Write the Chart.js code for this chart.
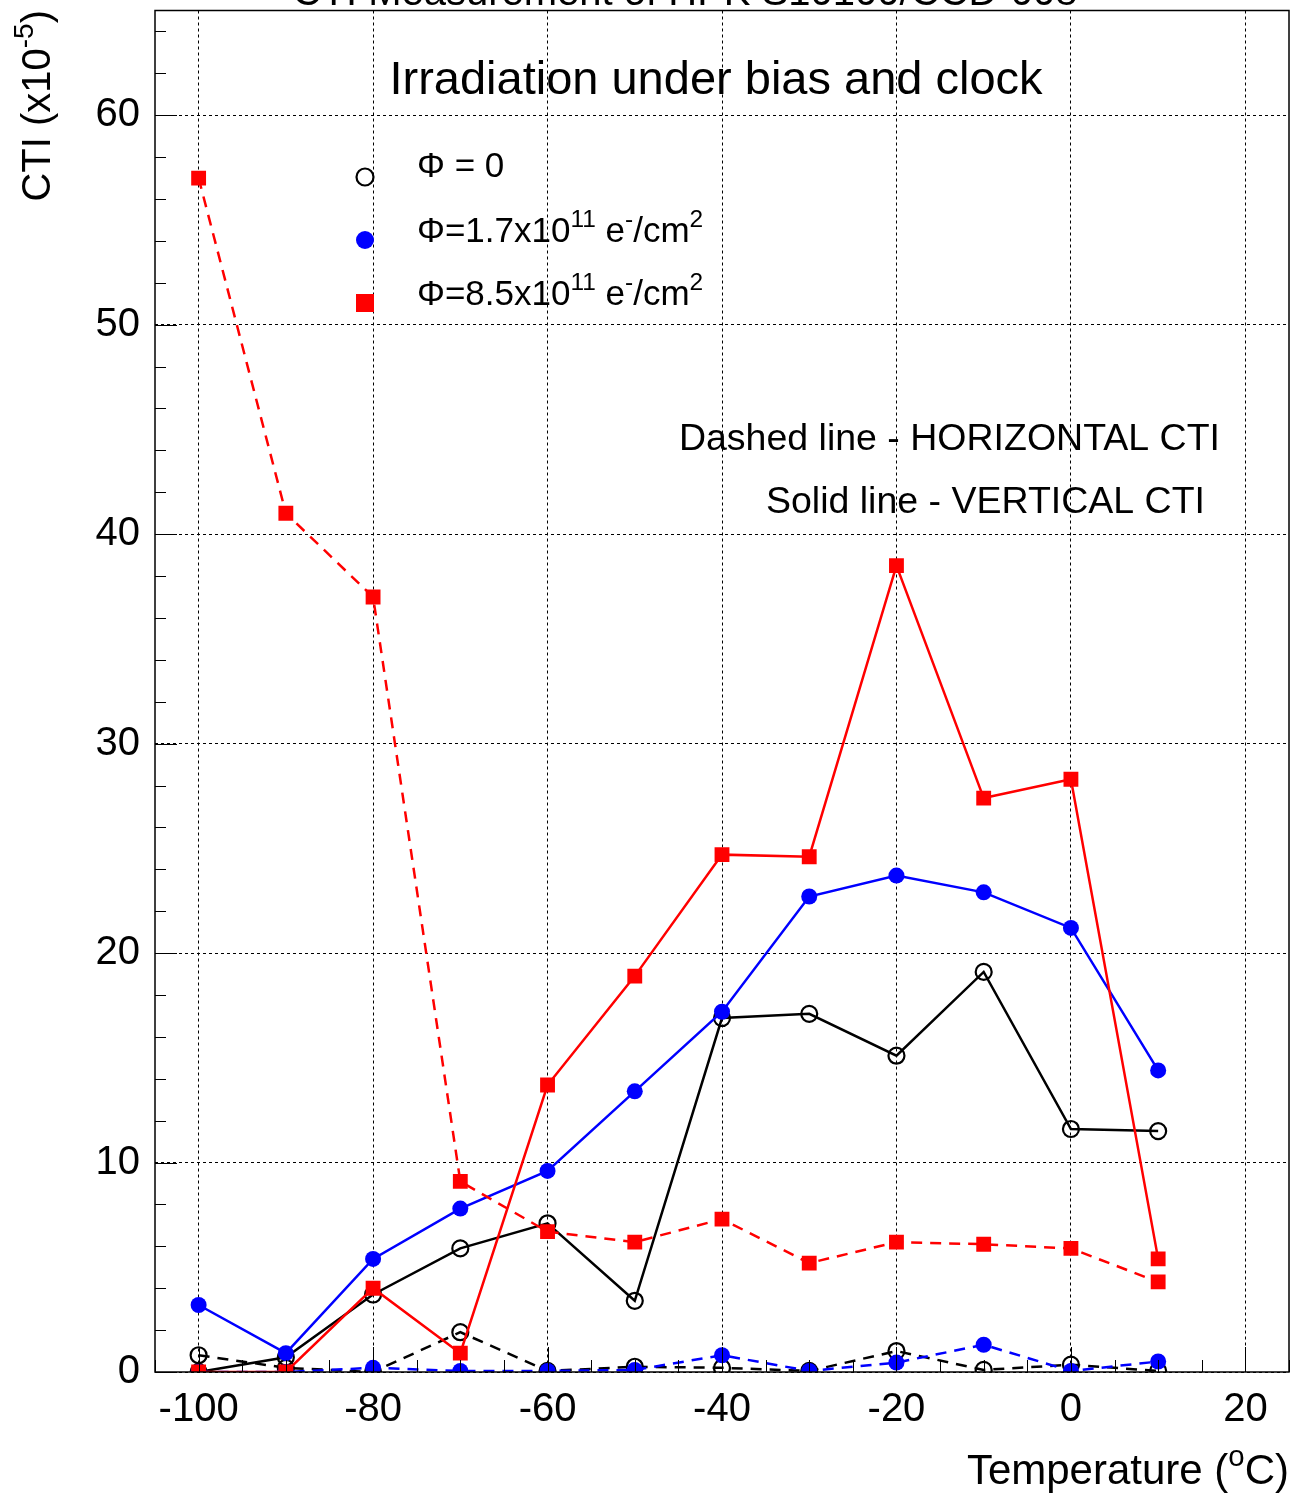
<!DOCTYPE html>
<html>
<head>
<meta charset="utf-8">
<title>CTI vs temperature</title>
<script src="https://cdn.jsdelivr.net/npm/chart.js@4.4.1/dist/chart.umd.min.js"></script>
<style>
  html, body { margin: 0; padding: 0; background: #fff; }
</style>
</head>
<body>
<canvas id="ctiChart" width="1300" height="1493"></canvas>
<script>
// temperatures in degC
const temps = [-100, -90, -80, -70, -60, -50, -40, -30, -20, -10, 0, 10];

// CTI (x1e-5), vertical = solid, horizontal = dashed
const phi0Vert    = [0, 0.7, 3.7, 5.9, 7.1, 3.4, 16.9, 17.1, 15.1, 19.1, 11.6, 11.5];
const phi0Horiz   = [0.8, 0.2, 0, 1.9, 0.05, 0.25, 0.2, 0.05, 1.0, 0.1, 0.35, 0.05];
const phi17Vert   = [3.2, 0.9, 5.4, 7.8, 9.6, 13.4, 17.2, 22.7, 23.7, 22.9, 21.2, 14.4];
const phi17Horiz  = [0, 0, 0.2, 0.05, 0.05, 0.1, 0.8, 0.05, 0.45, 1.3, 0.05, 0.5];
const phi85Vert   = [0, 0, 4.0, 0.9, 13.7, 18.9, 24.7, 24.6, 38.5, 27.4, 28.3, 5.4];
const phi85Horiz  = [57, 41, 37, 9.1, 6.7, 6.2, 7.3, 5.2, 6.2, 6.1, 5.9, 4.3];

const xTicks = [-100, -80, -60, -40, -20, 0, 20];
const yTicks = [0, 10, 20, 30, 40, 50, 60];

const FONT = '"Liberation Sans", Arial, Helvetica, sans-serif';

function pts(vals) {
  return temps.map((t, i) => ({ x: t, y: vals[i] }));
}

function series(vals, color, dashed, style) {
  const open = style === 'openCircle';
  return {
    data: pts(vals),
    borderColor: color,
    borderWidth: 2.5,
    borderDash: dashed ? [11, 8] : [],
    pointStyle: open ? 'circle' : style,
    pointRadius: style === 'rect' ? 10.5 : 8,
    pointBackgroundColor: open ? 'rgba(0,0,0,0)' : color,
    pointBorderColor: color,
    pointBorderWidth: open ? 2.2 : 0,
    tension: 0,
    fill: false
  };
}

// text with superscripts: parts = [[text, isSup], ...]
function richWidth(ctx, parts, size) {
  let w = 0;
  parts.forEach(([t, sup]) => {
    ctx.font = (sup ? size * 0.7 : size) + 'px ' + FONT;
    w += ctx.measureText(t).width;
  });
  return w;
}

function drawRich(ctx, parts, x, y, size, align) {
  let cx = x;
  if (align === 'right') cx = x - richWidth(ctx, parts, size);
  if (align === 'center') cx = x - richWidth(ctx, parts, size) / 2;
  ctx.textAlign = 'left';
  ctx.textBaseline = 'alphabetic';
  parts.forEach(([t, sup]) => {
    ctx.font = (sup ? size * 0.7 : size) + 'px ' + FONT;
    ctx.fillText(t, cx, sup ? y - size * 0.42 : y);
    cx += ctx.measureText(t).width;
  });
}

const decor = {
  id: 'decor',
  afterDraw(chart) {
    const ctx = chart.ctx;
    const a = chart.chartArea;
    const xs = chart.scales.x, ys = chart.scales.y;
    ctx.save();
    ctx.fillStyle = '#000';
    ctx.strokeStyle = '#000';

    // frame
    ctx.lineWidth = 1.5;
    ctx.strokeRect(a.left, a.top, a.right - a.left, a.bottom - a.top);

    // inward ticks
    ctx.lineWidth = 1;
    ctx.beginPath();
    for (let v = -105; v <= 25; v += 5) {
      const px = Math.round(xs.getPixelForValue(v)) + 0.5;
      const len = v % 20 === 0 ? 25 : 12;
      ctx.moveTo(px, a.bottom);
      ctx.lineTo(px, a.bottom - len);
    }
    for (let v = 0; v <= 64; v += 2) {
      const py = Math.round(ys.getPixelForValue(v)) + 0.5;
      const len = v % 10 === 0 ? 22 : 11;
      ctx.moveTo(a.left, py);
      ctx.lineTo(a.left + len, py);
    }
    ctx.stroke();

    // titles and notes
    ctx.font = '40px ' + FONT;
    ctx.textAlign = 'center';
    ctx.fillText('CTI Measurement of HPK S10100/CCD-008', 685, 5);

    drawRich(ctx, [['Irradiation under bias and clock']], 716, 94, 47, 'center');
    drawRich(ctx, [['Dashed line - HORIZONTAL CTI']], 1220, 450, 37.5, 'right');
    drawRich(ctx, [['Solid line - VERTICAL CTI']], 1205, 513, 37.5, 'right');

    // axis titles
    drawRich(ctx, [['Temperature ('], ['o', true], ['C)']], 1289, 1484, 42, 'right');
    ctx.save();
    ctx.translate(50, 10);
    ctx.rotate(-Math.PI / 2);
    drawRich(ctx, [['CTI (x10'], ['-5', true], [')']], 0, 0, 40, 'right');
    ctx.restore();

    // legend
    const lx = 365;
    ctx.lineWidth = 2.2;
    ctx.beginPath();
    ctx.arc(lx, 177, 8.5, 0, Math.PI * 2);
    ctx.stroke();
    ctx.fillStyle = '#0000ff';
    ctx.beginPath();
    ctx.arc(lx, 240, 9, 0, Math.PI * 2);
    ctx.fill();
    ctx.fillStyle = '#ff0000';
    ctx.fillRect(lx - 9, 294, 18, 18);
    ctx.fillStyle = '#000';
    drawRich(ctx, [['\u03A6 = 0']], 417, 177, 35, 'left');
    drawRich(ctx, [['\u03A6=1.7x10'], ['11', true], [' e'], ['-', true], ['/cm'], ['2', true]], 417, 242, 35, 'left');
    drawRich(ctx, [['\u03A6=8.5x10'], ['11', true], [' e'], ['-', true], ['/cm'], ['2', true]], 417, 305, 35, 'left');

    ctx.restore();
  }
};

new Chart(document.getElementById('ctiChart'), {
  type: 'line',
  data: {
    datasets: [
      series(phi85Vert, '#ff0000', false, 'rect'),
      series(phi85Horiz, '#ff0000', true, 'rect'),
      series(phi17Vert, '#0000ff', false, 'circle'),
      series(phi17Horiz, '#0000ff', true, 'circle'),
      series(phi0Vert, '#000000', false, 'openCircle'),
      series(phi0Horiz, '#000000', true, 'openCircle')
    ]
  },
  options: {
    responsive: false,
    animation: false,
    layout: { padding: { top: 10, right: 11, left: 0, bottom: 0 } },
    plugins: { legend: { display: false }, tooltip: { enabled: false } },
    scales: {
      x: {
        type: 'linear',
        min: -105,
        max: 25,
        afterBuildTicks: s => { s.ticks = xTicks.map(v => ({ value: v })); },
        afterFit: s => { s.height = 121; s.paddingLeft = 0; s.paddingRight = 0; },
        grid: { color: '#000', lineWidth: 1, drawTicks: false },
        border: { display: false, dash: [3, 3] },
        ticks: { color: '#000', font: { family: FONT, size: 40 }, padding: 14, maxRotation: 0 }
      },
      y: {
        type: 'linear',
        min: 0,
        max: 65,
        afterBuildTicks: s => { s.ticks = yTicks.map(v => ({ value: v })); },
        afterFit: s => { s.width = 155; s.paddingTop = 0; s.paddingBottom = 0; },
        grid: { color: '#000', lineWidth: 1, drawTicks: false },
        border: { display: false, dash: [3, 3] },
        ticks: { color: '#000', font: { family: FONT, size: 40 }, padding: 15 }
      }
    }
  },
  plugins: [decor]
});
</script>
</body>
</html>
